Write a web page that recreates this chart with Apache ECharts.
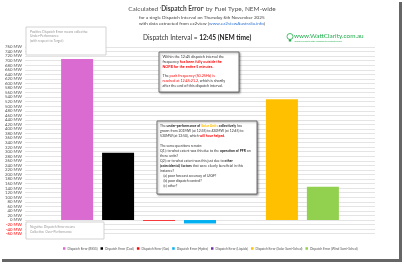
<!DOCTYPE html>
<html>
<head>
<meta charset="utf-8">
<script src="https://cdn.jsdelivr.net/npm/echarts@6/dist/echarts.min.js"></script>
<style>
    html, body { margin: 0; padding: 0; background: #fff; }
    #chart { width: 404px; height: 265px; }
</style>
</head>
<body>
<div id="chart"></div>
<script>
// 数据
const categories = ['12:45'];
const seriesNames = [
    'Dispatch Error (BESS)',
    'Dispatch Error (Coal)',
    'Dispatch Error (Gas)',
    'Dispatch Error (Hydro)',
    'Dispatch Error (Liquids)',
    'Dispatch Error (Solar Semi-Sched)',
    'Dispatch Error (Wind Semi-Sched)'
];
const dispatchError = [707, 295, -3, -15, 0, 531, 146];
const colors = ['#D96BD1', '#000000', '#FF0000', '#00B0F0', '#7030A0', '#FFC000', '#92D050'];
const yMin = -60;
const yMax = 760;
const yStep = 20;

(function () {
    const myChart = echarts.init(document.getElementById('chart'));
    const font = 'Lato';

    const series = seriesNames.map((name, i) => ({
        name: name,
        type: 'bar',
        barWidth: 32,
        barGap: '28%',
        itemStyle: { color: colors[i] },
        data: [dispatchError[i]]
    }));

    const option = {
        backgroundColor: '#fff',
        animation: false,
        textStyle: { fontFamily: font },
        grid: {
            left: 25,
            right: 29,
            top: 47,
            bottom: 31.3
        },
        legend: {
            left: 58,
            top: 242,
            itemWidth: 2.5,
            itemHeight: 2.5,
            itemGap: 3,
            icon: 'rect',
            textStyle: { fontSize: 3.2, color: '#555', padding: [0, 0, 0, -3] },
            data: seriesNames
        },
        xAxis: {
            type: 'category',
            data: categories,
            axisLine: { show: false },
            axisTick: { show: false },
            axisLabel: { show: false }
        },
        yAxis: {
            type: 'value',
            min: yMin,
            max: yMax,
            interval: yStep,
            axisLine: { show: false },
            axisTick: { show: false },
            axisLabel: {
                fontSize: 4.3,
                margin: 3,
                formatter: (v) => v + ' MW',
                color: (v) => (Number(v) < 0 ? '#FF0000' : '#555')
            },
            splitLine: {
                lineStyle: { color: '#e4e4e4', width: 1 }
            }
        },
        series: series,
        graphic: [
            // 卡片阴影
            { type: 'rect', shape: { x: 399, y: 2, width: 3, height: 260 }, style: { fill: '#666' }, z: 100 },
            { type: 'rect', shape: { x: 2, y: 259, width: 400, height: 3 }, style: { fill: '#666' }, z: 100 },
            // 标题
            {
                type: 'text', left: 'center', top: 5, z: 100,
                style: {
                    text: "Calculated '{b|Dispatch Error}' by Fuel Type, NEM-wide",
                    font: '6.5px ' + font, fill: '#555',
                    rich: { b: { fontWeight: 'bold', fontSize: 6.5, fill: '#444', fontFamily: font } }
                }
            },
            {
                type: 'text', left: 'center', top: 14, z: 100,
                style: {
                    text: 'for a single Dispatch Interval on Thursday 6th November 2025\nwith data extracted from ez2view ({a|www.ez2viewAustralia.info})',
                    font: '4.6px ' + font, fill: '#444', align: 'center', lineHeight: 6.5,
                    rich: { a: { fill: '#2E75D6', fontSize: 4.6, fontFamily: font, textDecoration: 'underline' } }
                }
            },
            {
                type: 'text', left: 143, top: 34, z: 100,
                style: {
                    text: 'Dispatch Interval = {b|12:45 (NEM time)}',
                    font: '6.6px ' + font, fill: '#333',
                    rich: { b: { fontWeight: 'bold', fontSize: 6.6, fill: '#222', fontFamily: font } }
                }
            },
            // WattClarity 标志
            { type: 'circle', shape: { cx: 290, cy: 36.5, r: 3 }, style: { fill: 'none', stroke: '#1FAE4B', lineWidth: 0.8 }, z: 100 },
            { type: 'rect', shape: { x: 288.8, y: 39.5, width: 2.4, height: 2 }, style: { fill: '#1FAE4B' }, z: 100 },
            {
                type: 'text', left: 294, top: 32.5, z: 100,
                style: { text: 'www.WattClarity.com.au', font: '6.4px ' + font, fill: '#1FAE4B' }
            },
            {
                type: 'text', left: 294, top: 40.5, z: 100,
                style: { text: 'Helping everyone to better understand the electricity market', font: '1.8px ' + font, fill: '#1FAE4B' }
            },
            // 左上说明框
            { type: 'rect', shape: { x: 26, y: 27, width: 80, height: 28 }, style: { fill: '#fff', stroke: '#c8c8c8', lineWidth: 0.8 }, z: 100 },
            {
                type: 'text', left: 30, top: 30, z: 101,
                style: {
                    text: 'Positive Dispatch Error means collective\nUnder-Performance\n(with respect to Target)',
                    font: '3.3px ' + font, fill: '#999', lineHeight: 4.2
                }
            },
            // 左下说明框
            { type: 'rect', shape: { x: 26, y: 222, width: 78, height: 17 }, style: { fill: '#fff', stroke: '#c8c8c8', lineWidth: 0.8 }, z: 100 },
            {
                type: 'text', left: 30, top: 225, z: 101,
                style: {
                    text: 'Negative Dispatch Error means\nCollective Over-Performance',
                    font: '3.3px ' + font, fill: '#999', lineHeight: 4.4
                }
            },
            // 频率说明框
            {
                type: 'rect', shape: { x: 159, y: 52, width: 80, height: 40 },
                style: { fill: '#fff', stroke: '#555', lineWidth: 0.8, shadowBlur: 2, shadowOffsetX: 1, shadowOffsetY: 1, shadowColor: 'rgba(0,0,0,0.4)' },
                z: 100
            },
            {
                type: 'text', left: 162.5, top: 54.5, z: 101,
                style: {
                    text: 'Within the 12:45 dispatch interval the\nfrequency {r|has been fully outside the}\n{r|NOFB for the entire 5 minutes.}\n\nThe {rn|peak frequency (50.25Hz) is}\n{rn|reached at 12:45:21.2}, which is shortly\nafter the end of this dispatch interval.',
                    font: '3.7px ' + font, fill: '#333', lineHeight: 4.8,
                    rich: {
                        r: { fill: '#FF0000', fontWeight: 'bold', fontSize: 3.7, fontFamily: font, lineHeight: 4.8 },
                        rn: { fill: '#FF0000', fontSize: 3.7, fontFamily: font, lineHeight: 4.8 }
                    }
                }
            },
            // 太阳能说明框
            {
                type: 'rect', shape: { x: 157, y: 121, width: 100, height: 73 },
                style: { fill: '#fff', stroke: '#555', lineWidth: 0.8, shadowBlur: 2, shadowOffsetX: 1, shadowOffsetY: 1, shadowColor: 'rgba(0,0,0,0.4)' },
                z: 100
            },
            {
                type: 'text', left: 160, top: 123, z: 101,
                style: {
                    text: 'The {b|under-performance of} {y|Solar Units} {b|collectively} has\ngrown from 201MW (at 12:35) to 420MW (at 12:45) to\n530MW (at 12:50), which {r|will have helped}.\n\nThe same questions remain:\nQ1): to what extent was this due to the {b|operation of PFR} on\nthese units?\nQ2): or to what extent was this just due to {b|other}\n{b|(coincidental) factors} that were clearly beneficial in this\ninstance?\n    (a) poor forecast accuracy of UIGF?\n    (b) poor dispatch control?\n    (c) other?',
                    font: '3.45px ' + font, fill: '#333', lineHeight: 5,
                    rich: {
                        b: { fontWeight: 'bold', fontSize: 3.45, fill: '#222', fontFamily: font, lineHeight: 5 },
                        y: { fontWeight: 'bold', fontSize: 3.45, fill: '#FFC000', fontFamily: font, lineHeight: 5 },
                        r: { fontWeight: 'bold', fontSize: 3.45, fill: '#FF0000', fontFamily: font, lineHeight: 5 }
                    }
                }
            }
        ]
    };
    myChart.setOption(option);
    window.addEventListener('resize', () => {
        myChart.resize();
    });
})();
</script>
</body>
</html>
